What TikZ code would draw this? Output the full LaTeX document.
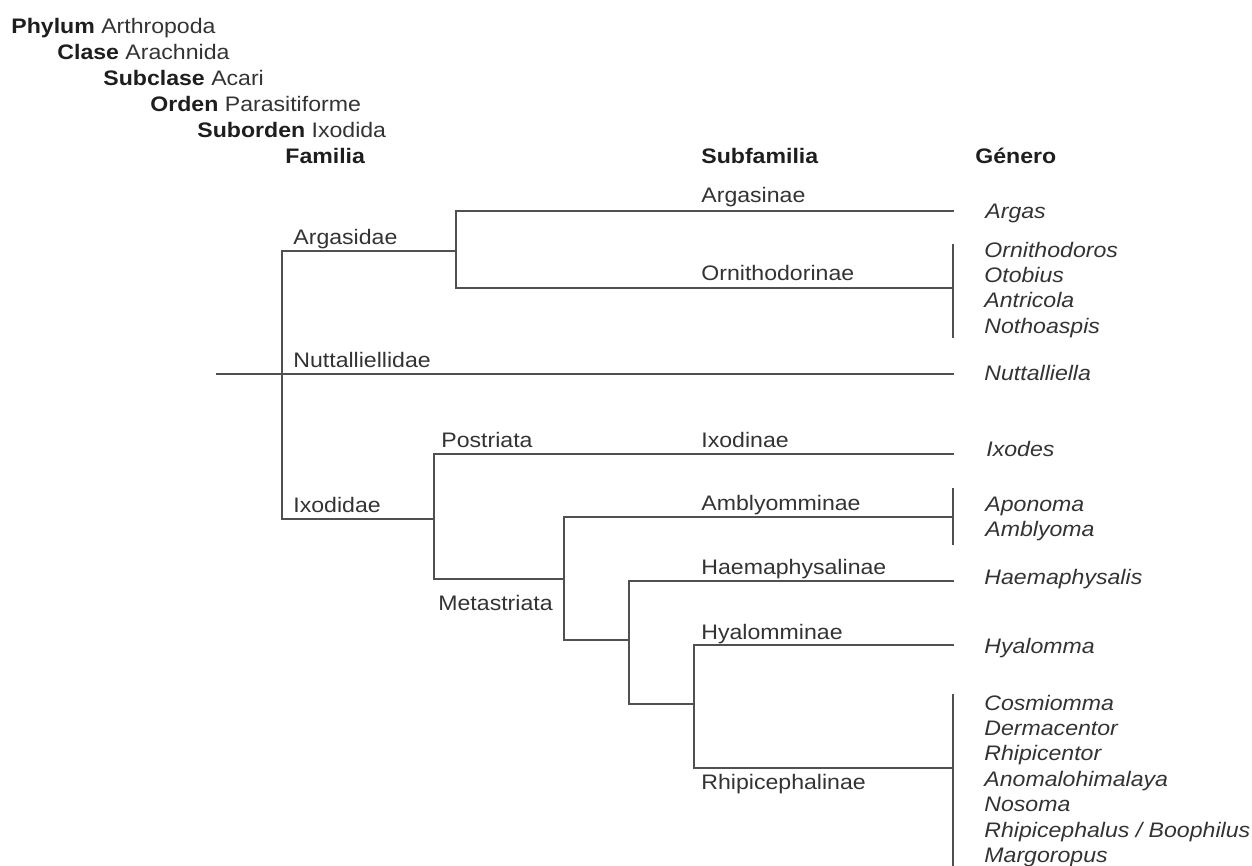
\documentclass[tikz,border=0pt]{standalone}
\usepackage{fontspec}
\setmainfont{Liberation Sans}[FakeStretch=1.1]
\definecolor{ln}{HTML}{505050}
\definecolor{txt}{HTML}{333333}
\definecolor{hdc}{HTML}{1E1E1E}
\begin{document}
\begin{tikzpicture}[x=0.5pt,y=-0.5pt,
  lbl/.style={anchor=base west,inner sep=0pt,text=txt,font=\fontsize{10.5}{12}\selectfont},
  gen/.style={lbl,font=\fontsize{10.5}{12}\selectfont\itshape},
  hd/.style={lbl,text=hdc},
  branch/.style={draw=ln,line width=0.8pt,line cap=rect}]
\useasboundingbox (0,0) rectangle (1252,866);
% taxonomy header
\node[hd] (phy) at (11,34) {\textbf{Phylum} \color{txt}Arthropoda};
\node[hd] (cla) at (57,60) {\textbf{Clase} \color{txt}Arachnida};
\node[hd] (sub) at (103,86) {\textbf{Subclase} \color{txt}Acari};
\node[hd] (ord) at (150,112) {\textbf{Orden} \color{txt}Parasitiforme};
\node[hd] (sor) at (197,138) {\textbf{Suborden} \color{txt}Ixodida};
\node[hd] (hfam) at (285,164) {\textbf{Familia}};
\node[hd] (hsub) at (701,164) {\textbf{Subfamilia}};
\node[hd] (hgen) at (975,164) {\textbf{Género}};
% junction coordinates
\coordinate (root) at (217,374);
\coordinate (nutE) at (953,374);
\coordinate (fA) at (282,251);
\coordinate (fI) at (282,519);
\coordinate (aJ) at (456,251);
\coordinate (aT) at (456,211);
\coordinate (aB) at (456,288);
\coordinate (argE) at (953,211);
\coordinate (ornE) at (953,288);
\coordinate (ornBt) at (953,245);
\coordinate (ornBb) at (953,337);
\coordinate (iJ) at (434,519);
\coordinate (iT) at (434,454);
\coordinate (iB) at (434,579);
\coordinate (ixE) at (953,454);
\coordinate (mJ) at (564,579);
\coordinate (mT) at (564,517);
\coordinate (mB) at (564,640);
\coordinate (ambE) at (953,517);
\coordinate (ambBt) at (953,489);
\coordinate (ambBb) at (953,544);
\coordinate (hJ) at (629,640);
\coordinate (hT) at (629,581);
\coordinate (hB) at (629,704);
\coordinate (haeE) at (953,581);
\coordinate (rJ) at (694,704);
\coordinate (rT) at (694,645);
\coordinate (rB) at (694,768);
\coordinate (hyaE) at (953,645);
\coordinate (rhiE) at (953,768);
\coordinate (rhiBt) at (953,695);
\coordinate (rhiBb) at (953,866);
% branches
\draw[branch] (root) -- (nutE);
\draw[branch] (fA) -- (fI);
\draw[branch] (fA) -- (aJ);
\draw[branch] (aT) -- (aB);
\draw[branch] (aT) -- (argE);
\draw[branch] (aB) -- (ornE);
\draw[branch] (ornBt) -- (ornBb);
\draw[branch] (fI) -- (iJ);
\draw[branch] (iT) -- (iB);
\draw[branch] (iT) -- (ixE);
\draw[branch] (iB) -- (mJ);
\draw[branch] (mT) -- (mB);
\draw[branch] (mT) -- (ambE);
\draw[branch] (ambBt) -- (ambBb);
\draw[branch] (mB) -- (hJ);
\draw[branch] (hT) -- (hB);
\draw[branch] (hT) -- (haeE);
\draw[branch] (hB) -- (rJ);
\draw[branch] (rT) -- (rB);
\draw[branch] (rT) -- (hyaE);
\draw[branch] (rB) -- (rhiE);
\draw[branch] (rhiBt) -- (rhiBb);
% family / section labels
\node[lbl] (argasidae) at (293,244) {Argasidae};
\node[lbl] (nuttalliellidae) at (293,367) {Nuttalliellidae};
\node[lbl] (ixodidae) at (293,512) {Ixodidae};
\node[lbl] (postriata) at (441,447) {Postriata};
\node[lbl] (metastriata) at (438,610) {Metastriata};
% subfamily labels
\node[lbl] (argasinae) at (701,203) {Argasinae};
\node[lbl] (ornithodorinae) at (701,280) {Ornithodorinae};
\node[lbl] (ixodinae) at (701,447) {Ixodinae};
\node[lbl] (amblyomminae) at (701,510) {Amblyomminae};
\node[lbl] (haemaphysalinae) at (701,574) {Haemaphysalinae};
\node[lbl] (hyalomminae) at (701,639) {Hyalomminae};
\node[lbl] (rhipicephalinae) at (701,789) {Rhipicephalinae};
% genera
\node[gen] (argas) at (985,219) {Argas};
\node[gen] (ornithodoros) at (984,257) {Ornithodoros};
\node[gen] (otobius) at (984,282.4) {Otobius};
\node[gen] (antricola) at (984,307.8) {Antricola};
\node[gen] (nothoaspis) at (984,333.2) {Nothoaspis};
\node[gen] (nuttalliella) at (984,380) {Nuttalliella};
\node[gen] (ixodes) at (986,456) {Ixodes};
\node[gen] (aponoma) at (985,511) {Aponoma};
\node[gen] (amblyoma) at (985,536) {Amblyoma};
\node[gen] (haemaphysalis) at (984,584) {Haemaphysalis};
\node[gen] (hyalomma) at (984,653) {Hyalomma};
\node[gen] (cosmiomma) at (984,710) {Cosmiomma};
\node[gen] (dermacentor) at (984,735.4) {Dermacentor};
\node[gen] (rhipicentor) at (984,760.8) {Rhipicentor};
\node[gen] (anomalohimalaya) at (984,786.2) {Anomalohimalaya};
\node[gen] (nosoma) at (984,811.6) {Nosoma};
\node[gen] (rhipicephalus) at (984,837) {Rhipicephalus / Boophilus};
\node[gen] (margoropus) at (984,862.4) {Margoropus};
\end{tikzpicture}
\end{document}
